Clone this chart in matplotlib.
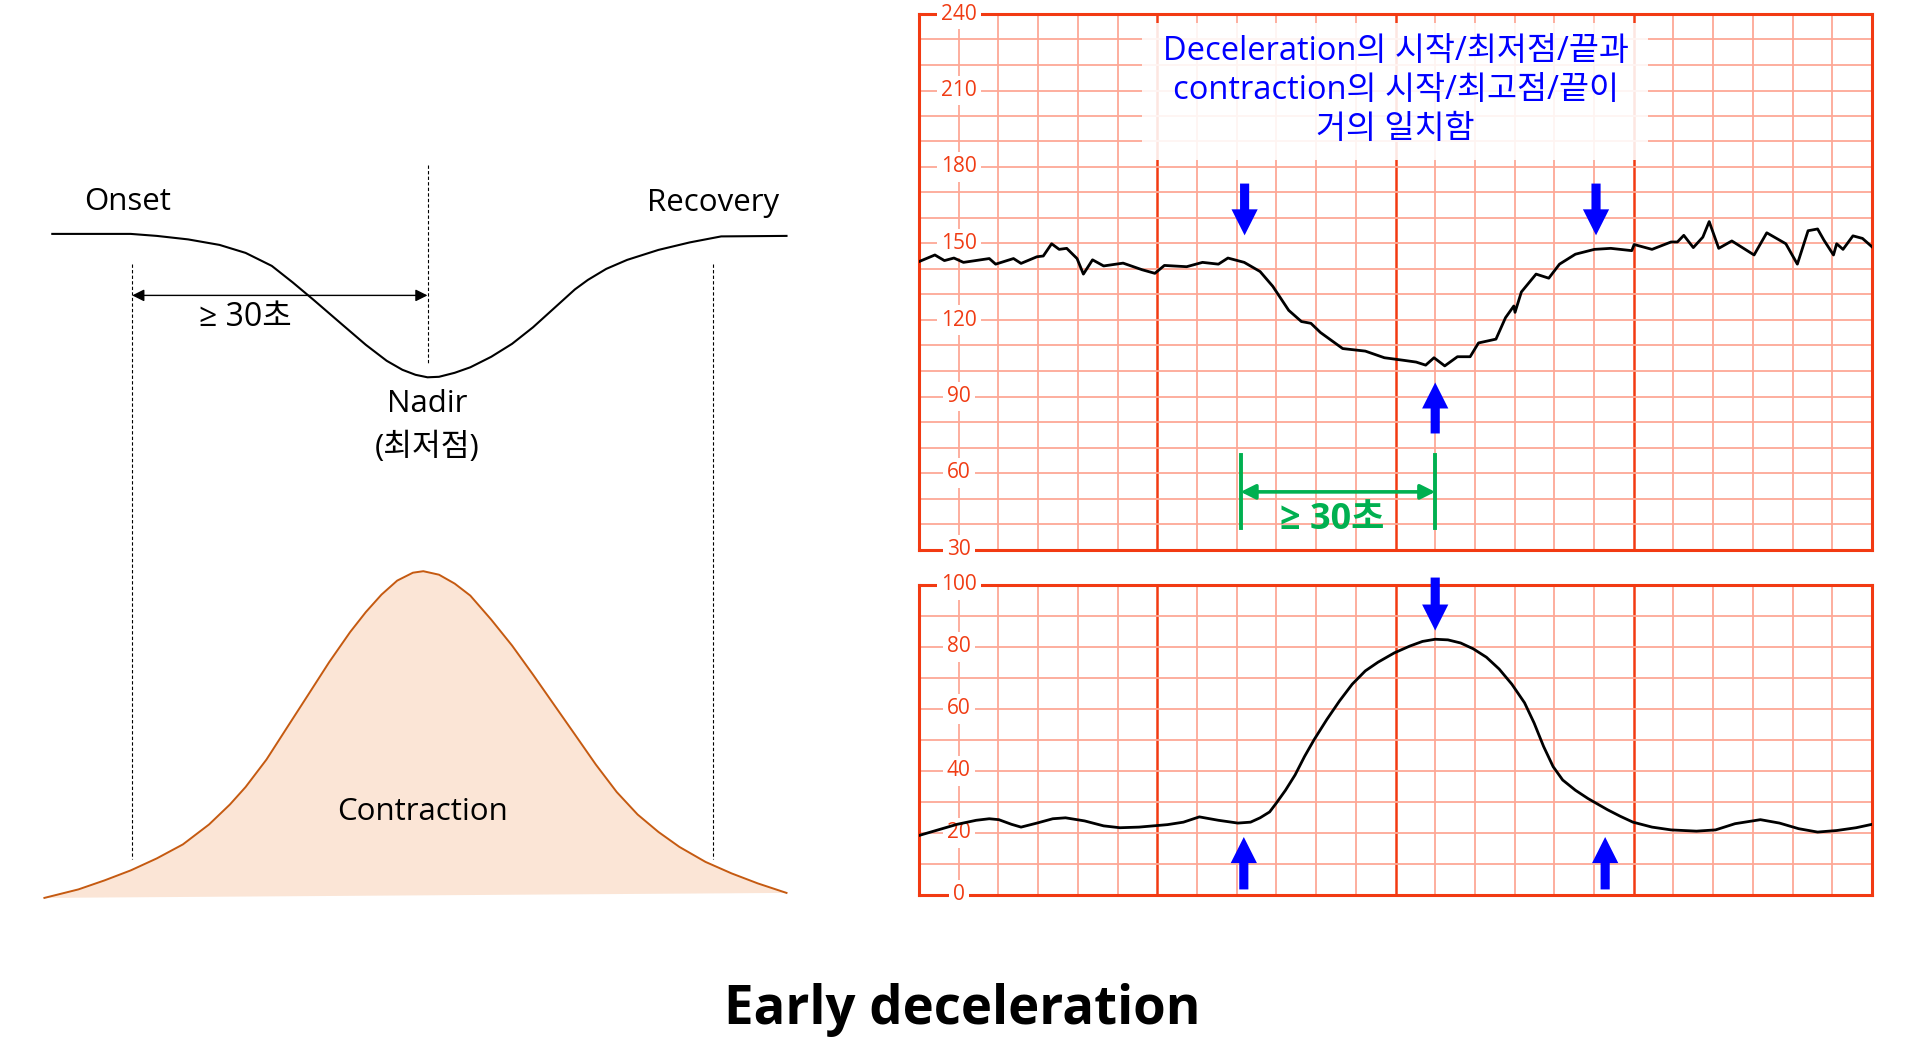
import matplotlib
matplotlib.use("Agg")
import matplotlib.pyplot as plt
from matplotlib.patches import Rectangle, FancyArrow

plt.rcParams['font.family'] = ['Open Sans', 'Noto Sans CJK KR', 'DejaVu Sans']

# ---- data ----
# fetal heart rate trace (seconds, bpm)
fhr_t = [0, 4, 6.4, 8.8, 11.2, 17.7, 19.3, 23.8, 25.7, 29.7,
         31.3, 33.4, 35.3, 37.2, 39.8, 41.4, 43.7, 46.5, 51.4, 56.2,
         59.4, 61.8, 67.4, 71.4, 75.4, 77.8, 81.9, 85.9, 89.1, 93.1,
         96.3, 98.7, 101.1, 106.7, 112.4, 117.2, 122, 125.2, 127.6, 129.7,
         132.4, 135.6, 138.8, 140.9, 145.3, 147.7, 149.8, 150.1, 151.7, 155.4,
         158.6, 161.3, 165.3, 170.1, 174.2, 179.5, 180.1, 184.6, 189.4, 191,
         192.6, 195, 197.4, 199, 201.4, 204.7, 210.3, 213.5, 218.3, 221.2,
         223.9, 226.3, 227.9, 230.3, 231.1, 232.7, 235.2, 237.6, 240]
fhr_v = [142.9, 145.5, 143.3, 144.3, 142.6, 144.1, 141.9, 144.1, 142.2, 144.8,
         145.1, 149.9, 147.7, 148.1, 144.1, 138.0, 143.6, 141.2, 142.3, 139.7,
         138.3, 141.4, 140.9, 142.6, 141.9, 144.3, 142.6, 139.0, 133.2, 123.8,
         119.4, 118.7, 115.1, 108.8, 107.8, 105.2, 104.2, 103.5, 102.3, 105.2,
         102.0, 105.6, 105.6, 111.0, 112.5, 120.9, 125.5, 123.0, 131.0, 138.0,
         136.4, 141.9, 145.8, 147.7, 148.1, 147.2, 149.6, 147.7, 150.6, 150.6,
         153.2, 148.4, 152.5, 158.6, 148.1, 151.0, 145.5, 154.2, 149.9, 141.9,
         155.0, 155.7, 151.3, 145.5, 149.9, 147.7, 153.0, 152.0, 148.7]

# uterine contraction trace (seconds, mmHg)
uc_t = [0, 4.8, 9.6, 14.4, 17.7, 20.1, 23.3, 25.7, 29.7, 33.7,
        36.9, 41.7, 46.5, 50.6, 55.4, 62.6, 66.6, 70.6, 75.4, 80.3,
        83.5, 85.9, 88.3, 89.9, 92.3, 94.7, 97.1, 99.5, 102.7, 105.9,
        109.1, 112.4, 115.6, 119.7, 123.6, 126.8, 130, 133.2, 136.4, 139.6,
        142.9, 146.1, 149.3, 152.5, 154.9, 157.3, 159.7, 162.1, 165.3, 168.5,
        173.4, 176.6, 179.8, 184.6, 189.4, 195.8, 200.6, 205.5, 211.9, 216.7,
        221.5, 226.3, 231.1, 236, 240]
uc_v = [19.2, 21.0, 22.8, 24.1, 24.6, 24.3, 22.8, 21.9, 23.2, 24.6,
        24.9, 23.9, 22.3, 21.7, 21.9, 22.7, 23.5, 25.2, 24.1, 23.2,
        23.5, 24.9, 26.8, 29.5, 33.8, 38.7, 44.7, 50.1, 56.6, 62.6,
        68.0, 72.3, 75.1, 78.1, 80.3, 81.8, 82.5, 82.3, 81.3, 79.4,
        76.7, 72.9, 68.0, 62.0, 55.5, 47.9, 41.4, 37.1, 33.8, 31.1,
        27.5, 25.4, 23.5, 21.9, 21.0, 20.6, 21.0, 23.0, 24.3, 23.2,
        21.4, 20.3, 20.8, 21.7, 22.8]

fhr_ticks = [30, 60, 90, 120, 150, 180, 210, 240]
uc_ticks = [0, 20, 40, 60, 80, 100]

# blue marker arrows: (time, start, end)
fhr_arrows = [(82, 173.5, 153.2), (170.5, 173.5, 153.2), (130, 75.5, 95.5)]
uc_arrows = [(130, 102.4, 85.3), (81.8, 1.8, 18.7), (172.8, 1.8, 18.7)]

note_lines = ["Deceleration의 시작/최저점/끝과",
              "contraction의 시작/최고점/끝이",
              "거의 일치함"]
note_y = [225.2, 210, 194.8]

# schematic (left side, figure pixel units)
decel_x = [52.3, 130.7, 156.8, 188.1, 219.5, 245.6, 271.8, 292.7, 313.6, 339.7,
           365.8, 386.7, 402.4, 415.5, 427.5, 439, 454.7, 470.3, 491.2, 512.1,
           533, 553.9, 574.9, 587.9, 606.2, 627.1, 658.5, 689.8, 721.2, 786.5]
decel_y = [233.9, 233.9, 235.9, 239.4, 244.9, 252.9, 265.9, 282.4, 299.9, 322.4,
           344.8, 360.8, 369.8, 374.8, 377.3, 376.8, 372.8, 367.3, 356.8, 343.8,
           327.3, 308.4, 289.4, 279.9, 268.9, 259.9, 249.9, 242.4, 236.4, 235.9]
con_x = [44.4, 78.4, 104.5, 130.7, 156.8, 182.9, 209, 229.9, 245.6, 266.5,
         287.4, 308.3, 329.2, 350.1, 365.8, 381.5, 397.2, 412.9, 423.3, 439,
         454.7, 470.3, 491.2, 512.1, 533, 553.9, 574.9, 595.8, 616.7, 637.6,
         658.5, 679.4, 705.5, 731.6, 757.8, 786.5]
con_y = [897.9, 889.4, 880.4, 870.4, 858.4, 844.4, 824.5, 804.5, 787, 759.5,
         727, 694.6, 662.1, 632.1, 612.1, 594.6, 580.6, 572.7, 571.2, 574.7,
         583.6, 595.6, 619.6, 645.6, 674.6, 704.5, 734.5, 764.5, 792, 814.5,
         832, 846.9, 861.9, 873.4, 883.4, 892.9]
onset_x, nadir_x, recov_x = 132.2, 427.5, 713.3

DARK = '#f23a12'
LIGHT = '#fda896'
LABEL = '#f03c14'
BLUE = '#0000ff'
GREEN = '#00b050'

fig = plt.figure(figsize=(19.19, 10.39), dpi=100)

# ---- left schematic + title ----
ax0 = fig.add_axes([0, 0, 1, 1])
ax0.set_xlim(0, 1919)
ax0.set_ylim(1039, 0)
ax0.axis('off')

ax0.fill(con_x, con_y, color='#fbe5d6', lw=0, zorder=1)
ax0.plot(con_x, con_y, color='#c55a11', lw=1.4, zorder=2)
ax0.plot(decel_x, decel_y, color='black', lw=1.5, zorder=2)

for xv, y0, y1 in [(onset_x, 264, 859), (nadir_x, 165, 365), (recov_x, 264, 859)]:
    ax0.plot([xv, xv], [y0, y1], color='black', lw=0.8, ls=(0, (3, 2)), zorder=2)

ax0.annotate('', xy=(onset_x, 295.4), xytext=(nadir_x, 295.4),
             arrowprops=dict(arrowstyle='<|-|>', color='black', lw=1.0,
                             mutation_scale=18, shrinkA=0, shrinkB=0))

ax0.text(128, 202.5, 'Onset', fontsize=22.5, ha='center', va='center')
ax0.text(713.3, 203, 'Recovery', fontsize=22.5, ha='center', va='center')
ax0.text(245.6, 317.4, '≥ 30초', fontsize=23, ha='center', va='center')
ax0.text(427.5, 404, 'Nadir', fontsize=22.5, ha='center', va='center')
ax0.text(427.5, 447.5, '(최저점)', fontsize=22.5, ha='center', va='center')
ax0.text(422.3, 812.3, 'Contraction', fontsize=22.5, ha='center', va='center')

ax0.text(962, 1024, 'Early deceleration', fontsize=38, fontweight='bold',
         ha='center', va='baseline')


def ctg_paper(ax, ymin, ymax, ticks):
    ax.set_xlim(0, 240)
    ax.set_ylim(ymin, ymax)
    ax.set_xticks([])
    ax.set_yticks([])
    ax.patch.set_alpha(0)
    for s in range(10, 240, 10):
        major = s % 60 == 0
        ax.axvline(s, color=DARK if major else LIGHT, lw=1.8 if major else 1.3, zorder=1)
    for v in range(ymin + 10, ymax, 10):
        ax.axhline(v, color=LIGHT, lw=1.3, zorder=1)
    for sp in ax.spines.values():
        sp.set_color(DARK)
        sp.set_linewidth(2.2)
    for v in ticks:
        ax.text(10, v, str(v), fontsize=15, color=LABEL, ha='center', va='center',
                zorder=3, bbox=dict(facecolor='white', edgecolor='none', pad=3))


def blue_arrow(ax, x, y0, y1, hl):
    ax.add_patch(FancyArrow(x, y0, 0, y1 - y0, width=2.3, head_width=6.6,
                            head_length=hl, length_includes_head=True,
                            color=BLUE, lw=0, zorder=6, clip_on=False))


# ---- FHR panel ----
ax1 = fig.add_axes([919 / 1919, 1 - 549.5 / 1039, 953 / 1919, 535.5 / 1039])
ctg_paper(ax1, 30, 240, fhr_ticks)
ax1.plot(fhr_t, fhr_v, color='black', lw=2.0, zorder=5)

ax1.add_patch(Rectangle((56.2, 182.9), 127.3, 53.6, facecolor='white',
                        edgecolor='none', alpha=0.88, zorder=4))
for line, yv in zip(note_lines, note_y):
    ax1.text(120, yv, line, fontsize=23.5, color=BLUE, ha='center', va='center', zorder=5)

for x, y0, y1 in fhr_arrows:
    blue_arrow(ax1, x, y0, y1, 10.2)

# green >= 30 s bracket
for xv in [81, 130]:
    ax1.plot([xv, xv], [38.3, 67], color=GREEN, lw=2.8, zorder=6)
ax1.annotate('', xy=(81, 52.6), xytext=(130, 52.6),
             arrowprops=dict(arrowstyle='<|-|>', color=GREEN, lw=2.6,
                             mutation_scale=22, shrinkA=0, shrinkB=0), zorder=6)
ax1.text(104, 41.5, '≥ 30초', fontsize=26, fontweight='bold', color=GREEN,
         ha='center', va='center', zorder=6)

# ---- UC panel ----
ax2 = fig.add_axes([919 / 1919, 1 - 895 / 1039, 953 / 1919, 310 / 1039])
ctg_paper(ax2, 0, 100, uc_ticks)
ax2.plot(uc_t, uc_v, color='black', lw=2.0, zorder=5)
for x, y0, y1 in uc_arrows:
    blue_arrow(ax2, x, y0, y1, 8.4)

fig.savefig('out.png', dpi=100)
